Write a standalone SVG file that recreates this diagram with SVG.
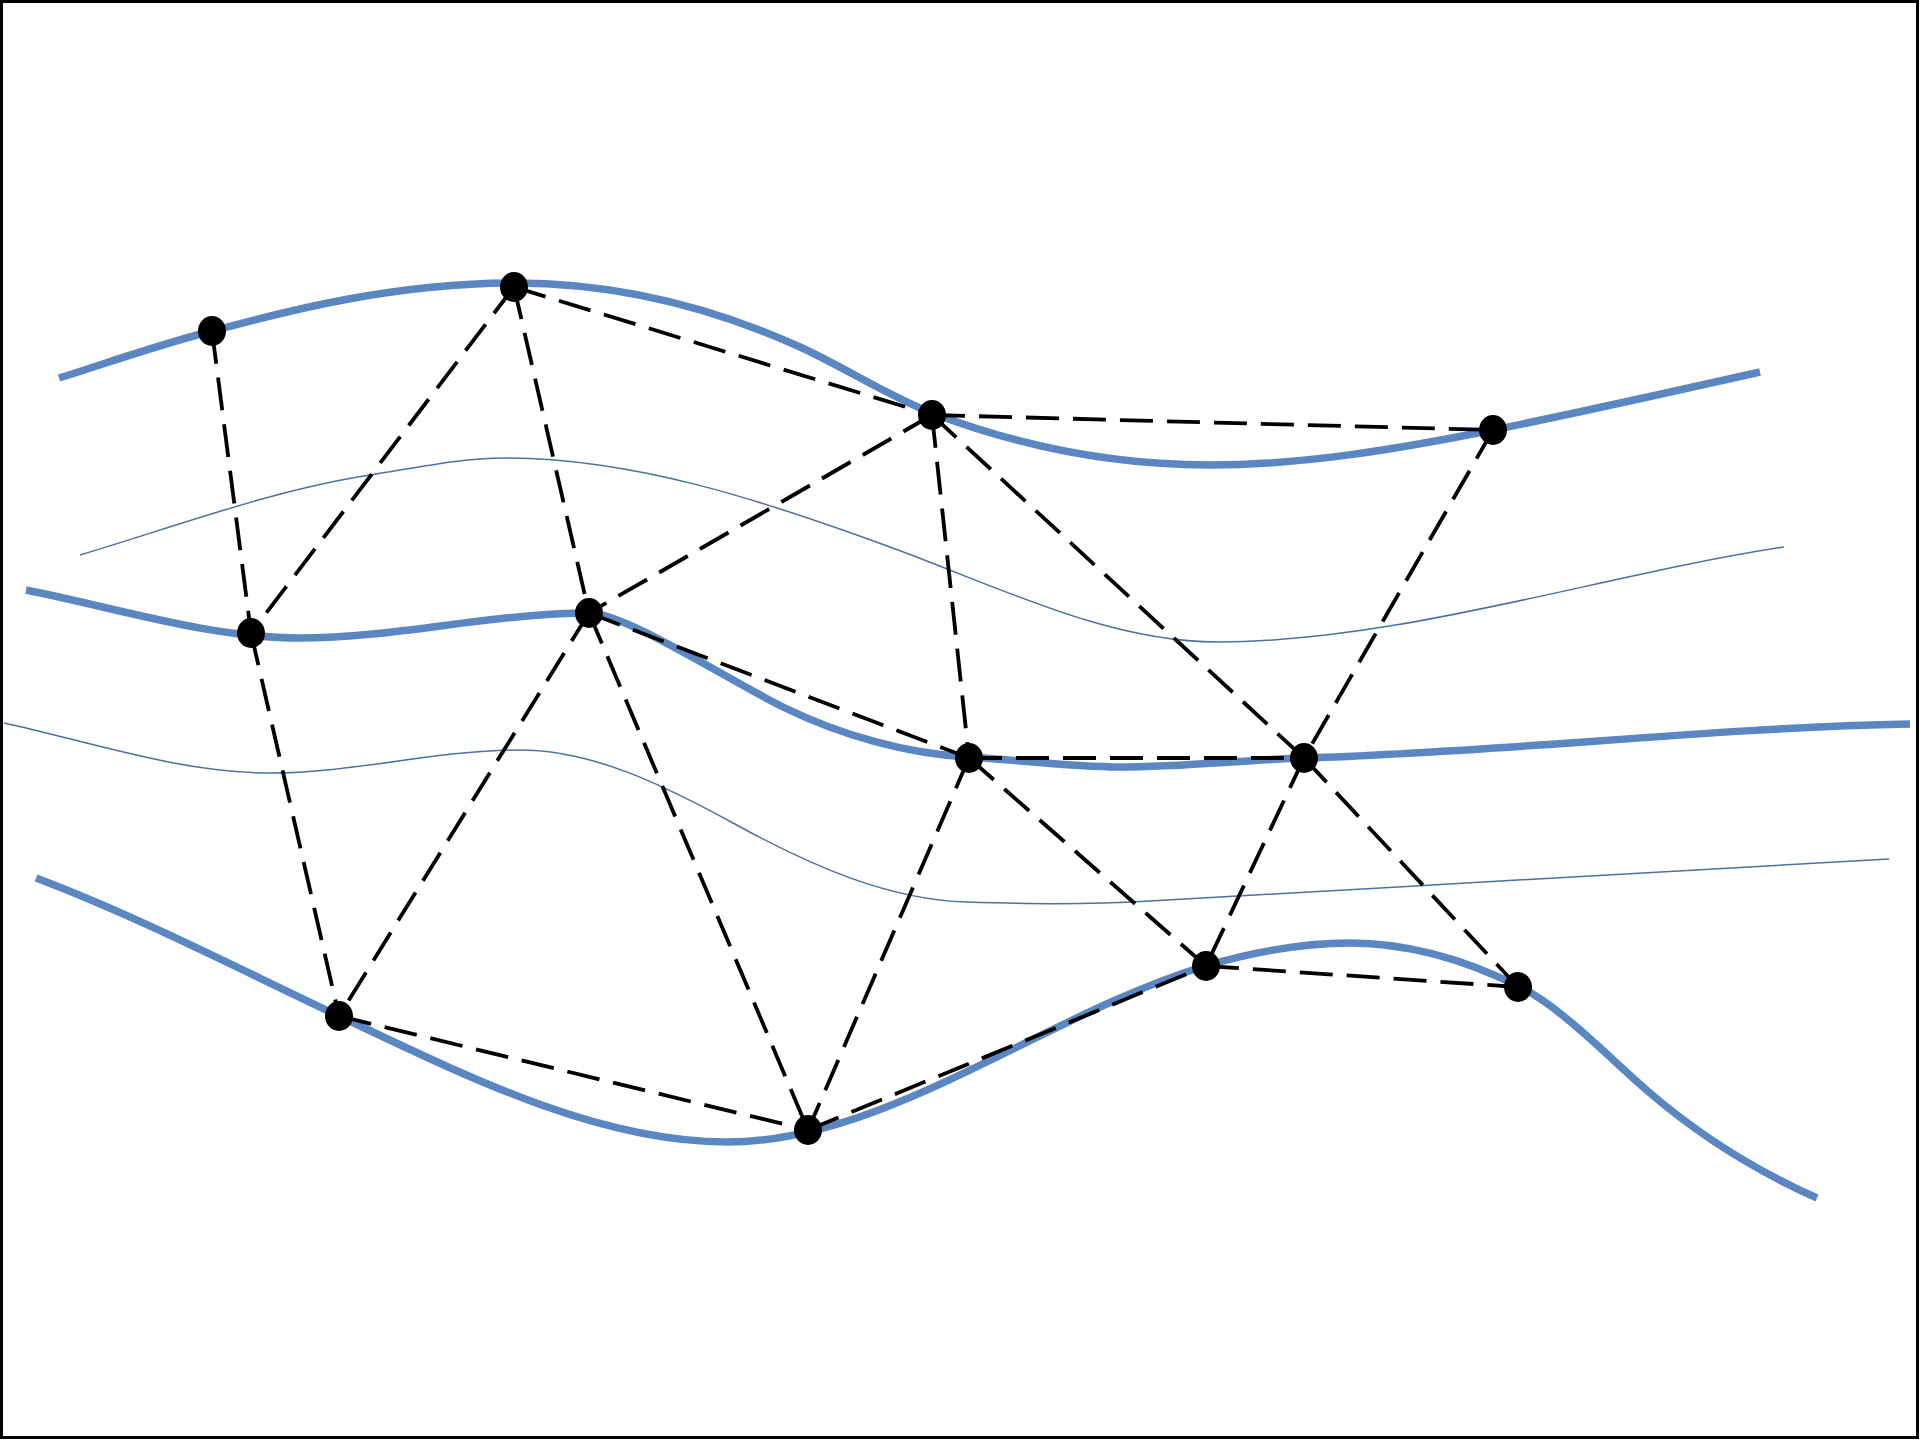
<svg xmlns="http://www.w3.org/2000/svg" width="1920" height="1440" viewBox="0 0 1920 1440">
<style>
.thick{fill:none;stroke:#5a86c1;stroke-width:7.5;stroke-linecap:butt}
.thin{fill:none;stroke:#4a70a4;stroke-width:1.5}
.edge{stroke:#000;stroke-width:3.8;stroke-dasharray:33 14;fill:none}
.node{fill:#000}
</style>
<rect x="0" y="0" width="1920" height="1440" fill="#fff"/>
<rect x="1.5" y="1.5" width="1916" height="1436" fill="none" stroke="#000" stroke-width="3"/>
<g id="curves">
<path id="curve-top" class="thick" d="M59,378 C110,362 161,344 212,331 C263,318 380,283 515,283 C610,283 705,304 800,347 C844,367 888,396 932,413 C1024,448 1117,465 1209,465 C1304,465 1398,449 1493,430 C1582,412 1671,392 1760,372"/>
<path id="curve-thin1" class="thin" d="M80,555 C177,526 273,490 370,475 C415,468 460,458 505,458 C633,458 762,500 890,547 C999,587 1108,642 1217,642 C1400,642 1600,575 1784,547"/>
<path id="curve-mid" class="thick" d="M26,590 C117,608 209,638 300,638 C396,638 493,613 589,613 C625,613 725,678 783,707 C840,735 907,754 969,757 C1019,760 1070,767 1120,767 C1181,767 1243,760 1304,758 C1506,752 1708,728 1910,724"/>
<path id="curve-thin2" class="thin" d="M4,723 C93,742.6 181,773 270,773 C353,773 437,750 520,750 C591,750 662,784 733,823 C811,866 889,900 967,902 C1030,904 1080,905 1150,901 C1400,887 1600,875 1889,859"/>
<path id="curve-bottom" class="thick" d="M36,878 C137,916 238,968.5 339,1016 C468,1077 598,1142 727,1142 C886,1142 1046,1014 1205,966 C1253,952 1302,943 1350,943 C1407,943 1463,958.5 1520,987 C1563,1008.5 1607,1056 1650,1093 C1706,1141 1761,1173 1817,1198"/>
</g>
<g id="connectors">
<line class="edge" x1="212" y1="331" x2="251" y2="633"/>
<line class="edge" x1="514" y1="287" x2="251" y2="633"/>
<line class="edge" x1="514" y1="287" x2="589" y2="613"/>
<line class="edge" x1="514" y1="287" x2="932" y2="415"/>
<line class="edge" x1="932" y1="415" x2="1493" y2="430"/>
<line class="edge" x1="932" y1="415" x2="589" y2="613"/>
<line class="edge" x1="932" y1="415" x2="969" y2="758"/>
<line class="edge" x1="932" y1="415" x2="1304" y2="758"/>
<line class="edge" x1="1493" y1="430" x2="1304" y2="758"/>
<line class="edge" x1="251" y1="633" x2="339" y2="1016"/>
<line class="edge" x1="589" y1="613" x2="339" y2="1016"/>
<line class="edge" x1="589" y1="613" x2="808" y2="1130"/>
<line class="edge" x1="589" y1="613" x2="969" y2="758"/>
<line class="edge" x1="969" y1="758" x2="1304" y2="758"/>
<line class="edge" x1="969" y1="758" x2="808" y2="1130"/>
<line class="edge" x1="969" y1="758" x2="1206" y2="966"/>
<line class="edge" x1="1304" y1="758" x2="1206" y2="966"/>
<line class="edge" x1="1304" y1="758" x2="1518" y2="987"/>
<line class="edge" x1="339" y1="1016" x2="808" y2="1130"/>
<line class="edge" x1="808" y1="1130" x2="1206" y2="966"/>
<line class="edge" x1="1206" y1="966" x2="1518" y2="987"/>
</g>
<g id="n1"><ellipse class="node" cx="212" cy="331" rx="14" ry="15"/></g>
<g id="n2"><ellipse class="node" cx="514" cy="287" rx="14" ry="15"/></g>
<g id="n3"><ellipse class="node" cx="932" cy="415" rx="14" ry="15"/></g>
<g id="n4"><ellipse class="node" cx="1493" cy="430" rx="14" ry="15"/></g>
<g id="n5"><ellipse class="node" cx="251" cy="633" rx="14" ry="15"/></g>
<g id="n6"><ellipse class="node" cx="589" cy="613" rx="14" ry="15"/></g>
<g id="n7"><ellipse class="node" cx="969" cy="758" rx="14" ry="15"/></g>
<g id="n8"><ellipse class="node" cx="1304" cy="758" rx="14" ry="15"/></g>
<g id="n9"><ellipse class="node" cx="339" cy="1016" rx="14" ry="15"/></g>
<g id="n10"><ellipse class="node" cx="808" cy="1130" rx="14" ry="15"/></g>
<g id="n11"><ellipse class="node" cx="1206" cy="966" rx="14" ry="15"/></g>
<g id="n12"><ellipse class="node" cx="1518" cy="987" rx="14" ry="15"/></g>
</svg>
